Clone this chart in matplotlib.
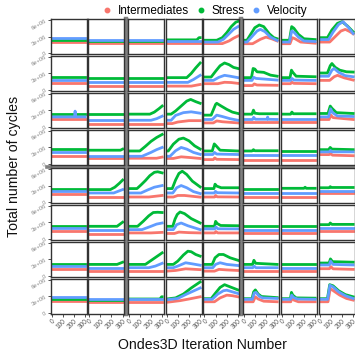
import matplotlib
matplotlib.use('Agg')
import matplotlib.pyplot as plt
from matplotlib.lines import Line2D

plt.rcParams['font.family'] = ['Liberation Sans', 'DejaVu Sans']

# values are millions of cycles.
# a plain number means a flat line over the whole run (0..300),
# otherwise a list of (iteration, value) points.
series_names = ['Intermediates', 'Stress', 'Velocity']
colors = ['#F8766D', '#00BA38', '#619CFF']
x_ticks = [0, 100, 200, 300]
y_ticks = [0, 3, 6]
y_tick_labels = ['0', '3e+06', '6e+06']

intermediates = [
    [2.0, 1.75, 1.75, 1.85,
     [(0, 1.72), (160, 1.72), (220, 2.2), (260, 2.7), (300, 3.1)],
     [(0, 1.7), (80, 1.7), (150, 2.5), (200, 2.9), (250, 2.6), (300, 2.2)],
     [(0, 1.7), (75, 1.7), (95, 2.8), (120, 2.6), (170, 2.0), (300, 1.8)],
     [(0, 2.0), (90, 2.0), (140, 3.0), (190, 4.0), (230, 4.3), (270, 3.9), (300, 3.5)]],
    [1.32, 0.7, 0.7,
     [(0, 0.7), (220, 0.7), (300, 1.0)],
     [(0, 1.14), (120, 1.14), (180, 1.4), (240, 1.35), (300, 1.2)],
     [(0, 0.8), (80, 0.8), (95, 1.1), (120, 0.9), (300, 0.85)],
     [(0, 1.14), (80, 1.14), (92, 1.4), (110, 1.2), (300, 1.14)],
     [(0, 1.74), (90, 1.74), (130, 2.4), (160, 2.66), (220, 2.2), (300, 1.8)]],
    [1.36, 0.62, 0.62,
     [(0, 0.62), (50, 0.62), (100, 0.9), (200, 1.15), (300, 1.15)],
     [(0, 0.74), (80, 0.74), (110, 1.1), (160, 0.95), (300, 0.74)],
     0.92, 0.92,
     [(0, 1.36), (85, 1.36), (100, 2.15), (120, 1.7), (300, 1.36)]],
    [1.53, 1.0,
     [(0, 1.04), (250, 1.04), (300, 1.25)],
     [(0, 1.0), (60, 1.0), (130, 1.3), (220, 1.15), (300, 1.0)],
     [(0, 0.8), (80, 0.8), (92, 1.1), (110, 0.85), (300, 0.8)],
     0.8, 0.8,
     [(0, 1.7), (85, 1.7), (97, 1.9), (115, 1.6), (300, 1.5)]],
    [1.53, 0.92,
     [(0, 0.92), (180, 0.92), (300, 1.2)],
     [(0, 0.92), (60, 0.92), (100, 1.2), (160, 1.2), (300, 0.9)],
     [(0, 0.92), (90, 0.92), (100, 1.2), (115, 0.95), (300, 0.92)],
     0.92, 0.92, 1.65],
    [1.52, 0.97,
     [(0, 1.1), (200, 1.1), (300, 1.2)],
     [(0, 1.0), (70, 1.0), (110, 1.25), (200, 1.15), (300, 1.1)],
     [(0, 1.1), (92, 1.1), (102, 1.35), (120, 1.1), (300, 1.1)],
     1.1, 1.1, 1.52],
    [1.25, 0.88, 0.88,
     [(0, 0.88), (80, 1.0), (170, 1.3), (300, 1.15)],
     [(0, 0.88), (90, 0.88), (130, 1.2), (200, 1.1), (300, 1.0)],
     0.95, 0.95,
     [(0, 1.32), (88, 1.32), (100, 1.7), (120, 1.3), (300, 1.2)]],
    [2.2, 1.9, 1.9,
     [(0, 1.9), (120, 2.2), (200, 2.5), (300, 2.9)],
     [(0, 2.0), (90, 2.0), (140, 2.7), (200, 3.2), (250, 3.1), (300, 2.9)],
     [(0, 2.0), (85, 2.0), (105, 2.9), (130, 2.5), (180, 2.1), (300, 2.0)],
     [(0, 2.0), (82, 2.0), (92, 2.8), (110, 2.3), (150, 2.0), (300, 2.0)],
     [(0, 2.0), (75, 2.0), (95, 4.4), (130, 3.9), (180, 3.2), (240, 2.6), (300, 2.3)]],
]

stress = [
    [2.45, 2.15, 2.2,
     [(0, 2.4), (270, 2.4), (290, 2.8), (300, 2.8)],
     [(0, 2.33), (110, 2.33), (160, 2.8), (200, 3.7), (240, 4.8), (280, 5.6), (300, 5.75)],
     [(0, 2.33), (30, 2.33), (60, 3.3), (100, 4.6), (140, 5.1), (180, 4.8), (230, 3.5), (270, 2.8), (300, 2.6)],
     [(0, 2.33), (70, 2.33), (90, 4.8), (110, 4.5), (150, 3.4), (200, 2.6), (300, 2.45)],
     [(0, 2.8), (70, 2.8), (110, 4.2), (160, 5.4), (200, 5.7), (250, 4.9), (300, 3.85)]],
    [2.42, 2.24, 2.24,
     [(0, 2.24), (180, 2.24), (220, 3.0), (260, 4.0), (300, 4.9)],
     [(0, 2.35), (60, 2.35), (100, 3.4), (140, 4.4), (180, 4.9), (220, 4.6), (260, 4.1), (300, 3.9)],
     [(0, 2.24), (70, 2.24), (85, 3.9), (100, 3.8), (120, 3.3), (180, 3.2), (240, 2.7), (300, 2.5)],
     [(0, 2.24), (75, 2.24), (88, 3.6), (100, 3.2), (130, 2.5), (300, 2.4)],
     [(0, 3.08), (70, 3.08), (95, 4.4), (110, 4.8), (140, 4.1), (180, 3.6), (240, 3.3), (300, 3.25)]],
    [2.33, 2.33,
     [(0, 2.33), (190, 2.33), (230, 2.7), (270, 3.3), (300, 3.8)],
     [(0, 2.33), (40, 2.33), (80, 2.9), (130, 3.8), (180, 4.7), (215, 5.0), (260, 4.6), (300, 4.3)],
     [(0, 2.15), (60, 2.15), (100, 4.1), (110, 4.3), (150, 3.8), (200, 3.2), (250, 2.7), (300, 2.45)],
     [(0, 2.33), (75, 2.33), (88, 3.06), (100, 2.5), (140, 2.4), (300, 2.4)],
     [(0, 2.33), (80, 2.33), (92, 2.7), (105, 2.4), (300, 2.4)],
     [(0, 2.45), (75, 2.45), (95, 3.8), (110, 3.4), (150, 2.6), (300, 2.45)]],
    [2.68,
     [(0, 2.5), (280, 2.5), (300, 2.7)],
     [(0, 2.36), (100, 2.36), (150, 3.2), (200, 4.1), (250, 4.8), (300, 5.36)],
     [(0, 2.36), (15, 2.36), (60, 3.6), (110, 4.5), (150, 4.7), (200, 4.2), (250, 3.3), (300, 2.7)],
     [(0, 2.36), (70, 2.36), (88, 3.64), (100, 3.4), (140, 2.5), (300, 2.36)],
     [(0, 2.36), (75, 2.36), (88, 2.6), (100, 2.4), (300, 2.4)],
     2.36,
     [(0, 2.6), (80, 2.6), (95, 3.0), (110, 2.7), (300, 2.6)]],
    [2.39,
     [(0, 2.27), (190, 2.27), (230, 2.7), (270, 3.4), (300, 4.0)],
     [(0, 2.45), (75, 2.45), (110, 3.1), (150, 3.9), (190, 4.8), (230, 5.4), (260, 5.5), (300, 5.3)],
     [(0, 2.45), (50, 2.45), (80, 4.0), (110, 5.2), (140, 5.6), (180, 5.0), (230, 3.8), (300, 2.75)],
     [(0, 2.45), (85, 2.45), (95, 3.25), (110, 2.9), (150, 2.6), (300, 2.6)],
     2.45,
     [(0, 2.5), (200, 2.5), (210, 2.7), (220, 2.5), (300, 2.5)],
     [(0, 2.6), (85, 2.6), (95, 2.8), (105, 2.65), (300, 2.65)]],
    [2.44,
     [(0, 2.3), (250, 2.3), (300, 3.05)],
     [(0, 2.3), (80, 2.3), (130, 3.2), (180, 4.2), (220, 4.8), (260, 4.85), (300, 4.8)],
     [(0, 2.3), (55, 2.3), (75, 3.6), (95, 4.45), (120, 4.9), (160, 4.6), (220, 3.7), (300, 2.9)],
     [(0, 2.3), (90, 2.3), (100, 3.2), (115, 2.8), (145, 2.45), (300, 2.4)],
     2.4, 2.4,
     [(0, 2.6), (85, 2.6), (95, 2.9), (110, 2.65), (300, 2.65)]],
    [2.24,
     [(0, 2.1), (250, 2.1), (300, 2.5)],
     [(0, 2.1), (150, 2.1), (200, 2.8), (250, 3.5), (300, 4.2)],
     [(0, 2.1), (60, 2.1), (100, 2.7), (150, 3.8), (190, 4.5), (220, 4.4), (260, 3.9), (300, 3.6)],
     [(0, 2.1), (70, 2.1), (95, 3.3), (130, 3.9), (170, 3.9), (230, 3.3), (300, 2.85)],
     [(0, 2.1), (80, 2.1), (92, 2.85), (108, 2.3), (300, 2.1)],
     2.1,
     [(0, 2.35), (85, 2.35), (97, 3.1), (115, 2.6), (300, 2.5)]],
    [2.55, 2.4,
     [(0, 2.5), (280, 2.5), (295, 2.9), (300, 2.9)],
     [(0, 2.5), (80, 2.7), (150, 3.4), (220, 4.5), (300, 5.6)],
     [(0, 2.56), (60, 2.56), (100, 3.6), (140, 4.6), (180, 5.1), (230, 4.7), (300, 4.15)],
     [(0, 2.56), (75, 2.56), (90, 3.8), (105, 4.15), (130, 3.4), (160, 2.95), (300, 2.75)],
     [(0, 2.56), (78, 2.56), (88, 3.7), (100, 3.2), (130, 2.7), (300, 2.65)],
     [(0, 2.56), (70, 2.56), (90, 5.1), (120, 4.9), (170, 4.0), (230, 3.3), (300, 2.9)]],
]

velocity = [
    [2.75, 2.3, 2.3, 2.15,
     [(0, 2.0), (120, 2.0), (170, 2.5), (220, 3.5), (260, 4.3), (300, 4.8)],
     [(0, 2.0), (30, 2.0), (70, 2.9), (120, 4.0), (150, 4.3), (190, 3.9), (240, 2.9), (300, 2.3)],
     [(0, 2.0), (70, 2.0), (90, 4.0), (110, 3.8), (150, 2.9), (200, 2.2), (300, 2.1)],
     [(0, 2.45), (80, 2.45), (120, 3.8), (170, 5.2), (210, 5.7), (260, 4.6), (300, 3.55)]],
    [1.87, 1.38, 1.38,
     [(0, 1.38), (190, 1.38), (240, 1.9), (300, 2.66)],
     [(0, 1.74), (80, 1.74), (130, 2.3), (180, 2.66), (230, 2.5), (300, 2.24)],
     [(0, 1.74), (75, 1.74), (90, 2.3), (110, 2.1), (300, 1.8)],
     [(0, 1.74), (80, 1.74), (92, 2.1), (110, 1.8), (300, 1.74)],
     [(0, 2.5), (80, 2.5), (110, 3.6), (130, 3.9), (170, 3.2), (230, 2.6), (300, 2.4)]],
    [[(0, 1.83), (205, 1.83), (210, 2.88), (215, 1.83), (300, 1.83)],
     1.22,
     [(0, 1.22), (200, 1.22), (250, 1.5), (300, 1.96)],
     [(0, 1.22), (40, 1.22), (80, 2.1), (150, 2.6), (220, 2.75), (300, 2.5)],
     [(0, 1.36), (70, 1.36), (110, 2.15), (160, 1.9), (230, 1.5), (300, 1.22)],
     [(0, 1.36), (80, 1.36), (90, 1.75), (105, 1.4), (210, 1.4), (215, 1.8), (220, 1.4), (300, 1.36)],
     1.36,
     [(0, 1.83), (80, 1.83), (98, 3.3), (115, 2.6), (160, 2.0), (300, 1.9)]],
    [2.17, 1.4,
     [(0, 1.4), (120, 1.4), (200, 2.1), (250, 2.6), (300, 3.0)],
     [(0, 1.4), (30, 1.4), (80, 2.4), (130, 3.0), (180, 2.7), (240, 2.1), (300, 1.75)],
     [(0, 1.72), (75, 1.72), (90, 2.1), (110, 1.8), (300, 1.72)],
     1.6, 1.6,
     [(0, 2.2), (85, 2.2), (97, 2.45), (110, 2.2), (300, 2.2)]],
    [2.02,
     [(0, 1.65), (220, 1.65), (300, 2.27)],
     [(0, 1.65), (110, 1.65), (170, 2.2), (230, 2.7), (300, 3.0)],
     [(0, 1.65), (55, 1.65), (90, 2.6), (130, 3.0), (180, 2.6), (240, 1.9), (300, 1.55)],
     [(0, 1.65), (88, 1.65), (98, 1.95), (115, 1.7), (300, 1.65)],
     1.65, 1.65, 2.1],
    [1.95, 1.7,
     [(0, 1.7), (120, 1.7), (200, 2.3), (250, 2.7), (300, 2.9)],
     [(0, 1.7), (60, 1.7), (90, 2.6), (130, 2.9), (190, 2.4), (300, 1.7)],
     [(0, 1.83), (92, 1.83), (102, 2.2), (120, 1.85), (300, 1.83)],
     1.7, 1.7, 2.0],
    [1.74, 1.5,
     [(0, 1.5), (180, 1.5), (240, 1.8), (300, 2.3)],
     [(0, 1.5), (60, 1.5), (100, 1.8), (170, 2.4), (230, 2.2), (300, 1.95)],
     [(0, 1.5), (75, 1.5), (100, 2.1), (140, 2.4), (200, 2.1), (300, 1.9)],
     [(0, 1.5), (82, 1.5), (94, 1.8), (110, 1.5), (300, 1.5)],
     1.5,
     [(0, 2.0), (87, 2.0), (98, 2.7), (120, 2.1), (300, 2.0)]],
    [2.9, 2.5, 2.45,
     [(0, 2.36), (100, 2.6), (180, 3.4), (300, 4.5)],
     [(0, 2.45), (70, 2.45), (120, 3.4), (170, 4.0), (200, 4.1), (250, 3.8), (300, 3.5)],
     [(0, 2.45), (78, 2.45), (95, 3.6), (110, 3.7), (140, 3.0), (170, 2.7), (300, 2.6)],
     [(0, 2.45), (80, 2.45), (90, 3.2), (105, 2.8), (140, 2.5), (300, 2.45)],
     [(0, 2.45), (72, 2.45), (92, 5.0), (120, 4.7), (170, 3.8), (230, 3.1), (300, 2.6)]],
]

all_series = [intermediates, stress, velocity]

W, H = 355, 352
lefts = [50.5, 88, 127.5, 165.5, 203.3, 242.5, 280.5, 318.5]
tops = [19.3, 56.2, 93.2, 130.2, 168.3, 205.2, 242.2, 279.0]
pw, ph = 36, 34.5

fig = plt.figure(figsize=(W / 100, H / 100), dpi=100)

# grey separators between panel groups
for gx in [125.8, 241.0]:
    fig.add_artist(Line2D([gx / W, gx / W], [1 - 19 / H, 1 - 313.5 / H],
                          color='#7f7f7f', lw=3.2, zorder=-1))
fig.add_artist(Line2D([47 / W, 1], [1 - 166.6 / H, 1 - 166.6 / H],
                      color='#7f7f7f', lw=2.6, zorder=-1))

for r in range(8):
    for c in range(8):
        ax = fig.add_axes([lefts[c] / W, 1 - (tops[r] + ph) / H, pw / W, ph / H])
        for s, col in zip(all_series, colors):
            d = s[r][c]
            if isinstance(d, (int, float)):
                d = [(0, d), (300, d)]
            xs = [p[0] for p in d]
            ys = [p[1] for p in d]
            ax.plot(xs, ys, color=col, lw=2.0, solid_joinstyle='round')
        ax.set_xlim(-10, 312)
        ax.set_ylim(-0.13, 6.13)
        for sp in ax.spines.values():
            sp.set_color('#333333')
            sp.set_linewidth(1.0)
        ax.tick_params(length=2.2, width=0.6, color='#333333', pad=1)
        if c == 0:
            ax.set_yticks(y_ticks)
            ax.set_yticklabels(y_tick_labels, fontsize=4.2, color='#8a8a8a',
                               rotation=30, rotation_mode='anchor', ha='right', va='center')
        else:
            ax.set_yticks([])
        if r == 7:
            ax.set_xticks(x_ticks)
            ax.set_xticklabels([str(t) for t in x_ticks], fontsize=4.8, color='#555555',
                               rotation=45, rotation_mode='anchor', ha='right', va='top')
        else:
            ax.set_xticks([])

handles = [Line2D([], [], ls='none', marker='o', ms=3.2, color=col) for col in colors]
fig.legend(handles, series_names, loc='center', bbox_to_anchor=(205 / W, 1 - 11 / H),
           ncol=3, frameon=False, fontsize=8.5, handlelength=0.8, handletextpad=0.5,
           columnspacing=0.6, borderpad=0, borderaxespad=0)

fig.text(202 / W, 1 - 345 / H, 'Ondes3D Iteration Number', ha='center', va='center',
         fontsize=10.2, color='#111111')
fig.text(14.5 / W, 1 - 166.5 / H, 'Total number of cycles', ha='center', va='center',
         rotation=90, fontsize=10.2, color='#111111')

fig.savefig('out.png', dpi=100)
